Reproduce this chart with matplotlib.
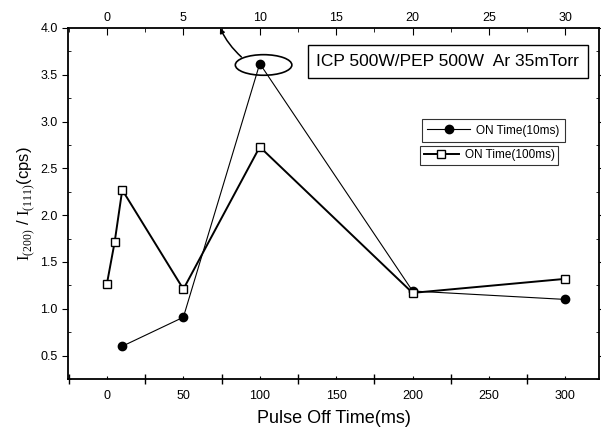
import matplotlib.pyplot as plt
import matplotlib.patches as mplpatches
from matplotlib.ticker import MultipleLocator, FormatStrFormatter

plt.rcParams['font.family'] = ['Liberation Sans', 'DejaVu Sans']
plt.rcParams['mathtext.fontset'] = 'custom'
plt.rcParams['mathtext.rm'] = 'Liberation Serif'

# data
off_time_10 = [10, 50, 100, 200, 300]
ratio_10 = [0.60, 0.91, 3.62, 1.19, 1.10]
off_time_100 = [0, 5, 10, 50, 100, 200, 300]
ratio_100 = [1.27, 1.71, 2.27, 1.21, 2.73, 1.17, 1.32]
label_10 = 'ON Time(10ms)'
label_100 = 'ON Time(100ms)'
note_text = 'ICP 500W/PEP 500W  Ar 35mTorr'

figure_width = 6.01
figure_height = 4.33
fig = plt.figure(figsize=(figure_width, figure_height), dpi=100)

panel1 = plt.axes([68/601, 1-379/433, (599-68)/601, (379-28)/433])
panel1.set_xlim(-25.5, 322)
panel1.set_ylim(0.25, 4.0)

line_10, = panel1.plot(off_time_10, ratio_10,
                       color='black', linewidth=0.8,
                       marker='o', markersize=6,
                       markerfacecolor='black', markeredgecolor='black')
line_100, = panel1.plot(off_time_100, ratio_100,
                        color='black', linewidth=1.4,
                        marker='s', markersize=5.5,
                        markerfacecolor='white', markeredgecolor='black',
                        markeredgewidth=1.0)

for side in ['left', 'right', 'top', 'bottom']:
    panel1.spines[side].set_linewidth(1.3)

panel1.xaxis.set_major_locator(MultipleLocator(50))
panel1.xaxis.set_minor_locator(MultipleLocator(25))
panel1.yaxis.set_major_locator(MultipleLocator(0.5))
panel1.yaxis.set_minor_locator(MultipleLocator(0.25))
panel1.yaxis.set_major_formatter(FormatStrFormatter('%.1f'))
panel1.tick_params(axis='x', which='major', direction='in', length=2,
                   labelsize=9, pad=8, top=False)
panel1.tick_params(axis='x', which='minor', direction='inout', length=7,
                   width=1, top=False)
panel1.tick_params(axis='y', which='major', direction='out', length=4,
                   labelsize=9, right=True)
panel1.tick_params(axis='y', which='minor', direction='in', length=2,
                   right=True)
panel1.tick_params(axis='y', which='both', right=True)

# top axis is bottom / 10
panel2 = panel1.twiny()
panel2.set_xlim(-2.55, 32.2)
panel2.xaxis.set_major_locator(MultipleLocator(5))
panel2.xaxis.set_minor_locator(MultipleLocator(2.5))
panel2.tick_params(axis='x', which='major', direction='in', length=5,
                   labelsize=9, pad=3)
panel2.tick_params(axis='x', which='minor', direction='in', length=3)
for side in ['left', 'right', 'top', 'bottom']:
    panel2.spines[side].set_visible(False)

panel1.set_xlabel('Pulse Off Time(ms)', fontsize=13, labelpad=6)
panel1.set_ylabel(r'$\mathrm{I}_{(200)}$ / $\mathrm{I}_{(111)}$(cps)',
                  fontsize=12, labelpad=2)

# circled point and pointer
ellipse = mplpatches.Ellipse((102.5, 3.605), 37, 0.22,
                             facecolor='none', edgecolor='black', linewidth=1.2)
panel1.add_patch(ellipse)
panel1.annotate('', xy=(74, 4.0), xytext=(88, 3.69),
                arrowprops=dict(arrowstyle='-|>', color='black', linewidth=1.1,
                                mutation_scale=7, shrinkA=0, shrinkB=0,
                                connectionstyle='arc3,rad=-0.1'))

# note box
panel1.text(0.963, 0.905, note_text, transform=panel1.transAxes,
            fontsize=12.5, ha='right', va='center',
            bbox=dict(boxstyle='square,pad=0.5', facecolor='white',
                      edgecolor='black', linewidth=1.0))

leg1 = panel1.legend([line_10], [label_10], loc='upper left',
                     bbox_to_anchor=(0.667, 0.74), fontsize=8.5,
                     frameon=True, fancybox=False, edgecolor='black',
                     handlelength=3.6, borderpad=0.45, handletextpad=0.5,
                     borderaxespad=0)
leg1.get_frame().set_linewidth(0.8)
panel1.add_artist(leg1)
leg2 = panel1.legend([line_100], [label_100], loc='upper left',
                     bbox_to_anchor=(0.663, 0.665), fontsize=8.5,
                     frameon=True, fancybox=False, edgecolor='black',
                     handlelength=3.0, borderpad=0.3, handletextpad=0.5,
                     borderaxespad=0)
leg2.get_frame().set_linewidth(0.8)

plt.savefig('out.png', dpi=100)
